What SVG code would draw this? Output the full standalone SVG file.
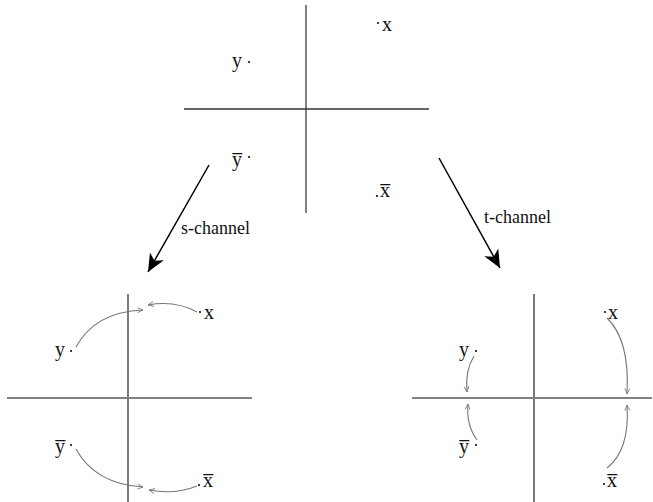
<svg xmlns="http://www.w3.org/2000/svg" width="653" height="502" viewBox="0 0 653 502">
<style>
.lbl{font-family:"Liberation Serif","DejaVu Serif",serif;font-size:20px;fill:#111}
.cap{font-family:"Liberation Serif","DejaVu Serif",serif;font-size:18px;fill:#111}
.axg{stroke:#808080;stroke-width:2;fill:none}
.axd{stroke:#333;stroke-width:1.3;fill:none}
.cv{stroke:#777;stroke-width:1.1;fill:none;marker-end:url(#sm)}
.big{stroke:#000;stroke-width:1.5;fill:none;marker-end:url(#bg)}
.dot{fill:#111}
</style>
<defs>
<marker id="sm" viewBox="0 0 10 10" refX="9" refY="5" markerWidth="7" markerHeight="7" markerUnits="userSpaceOnUse" orient="auto">
<path d="M1,1.5 L9,5 L1,8.5" fill="none" stroke="#777" stroke-width="1.2"/>
</marker>
<marker id="bg" viewBox="0 0 20 20" refX="18" refY="10" markerWidth="20" markerHeight="20" markerUnits="userSpaceOnUse" orient="auto">
<path d="M0,2 L18,10 L0,18 L5,10 Z" fill="#000"/>
</marker>
</defs>

<g id="top">
<line class="axg" x1="306" y1="5" x2="306" y2="213"/>
<line class="axd" x1="184" y1="109" x2="429" y2="109"/>
<circle class="dot" cx="378" cy="23" r="1.1"/><text class="lbl" x="382" y="31">x</text>
<text class="lbl" x="232" y="67">y</text><circle class="dot" cx="249" cy="62" r="1.1"/>
<text class="lbl" x="232" y="166">y&#x305;</text><circle class="dot" cx="249" cy="157" r="1.1"/>
<circle class="dot" cx="377" cy="196" r="1.1"/><text class="lbl" x="380" y="197">x&#x305;</text>
</g>

<g id="bottom-left">
<line class="axd" x1="128" y1="294" x2="128" y2="502"/>
<line class="axg" x1="7" y1="398" x2="252" y2="398"/>
<text class="lbl" x="55" y="356">y</text><circle class="dot" cx="71" cy="351" r="1.1"/>
<circle class="dot" cx="200" cy="312" r="1.1"/><text class="lbl" x="204" y="319">x</text>
<text class="lbl" x="55" y="453">y&#x305;</text><circle class="dot" cx="71" cy="445" r="1.1"/>
<circle class="dot" cx="199" cy="485" r="1.1"/><text class="lbl" x="203" y="487">x&#x305;</text>
</g>

<g id="bottom-right">
<line class="axd" x1="534" y1="294" x2="534" y2="502"/>
<line class="axg" x1="412" y1="398" x2="652" y2="398"/>
<text class="lbl" x="459" y="356">y</text><circle class="dot" cx="476" cy="351" r="1.1"/>
<text class="lbl" x="459" y="453">y&#x305;</text><circle class="dot" cx="476" cy="445" r="1.1"/>
<circle class="dot" cx="605" cy="312" r="1.1"/><text class="lbl" x="608" y="319">x</text>
<circle class="dot" cx="604" cy="484" r="1.1"/><text class="lbl" x="607" y="487">x&#x305;</text>
</g>

<g id="connectors">
<path class="big" d="M209,165 L148,272"/>
<path class="big" d="M439,158 L500,268"/>
<path class="cv" d="M76,347 Q95,312 143,310"/>
<path class="cv" d="M197,312 Q175,300 148,305"/>
<path class="cv" d="M76,449 Q95,484 143,487"/>
<path class="cv" d="M197,486 Q175,495 149,490"/>
<path class="cv" d="M474,356 Q465,370 467,392"/>
<path class="cv" d="M477,440 Q466,425 468,404"/>
<path class="cv" d="M607,318 Q630,340 627,394"/>
<path class="cv" d="M607,468 Q630,450 627,405"/>
</g>

<text class="cap" x="181" y="234">s-channel</text>
<text class="cap" x="484" y="223">t-channel</text>
</svg>
